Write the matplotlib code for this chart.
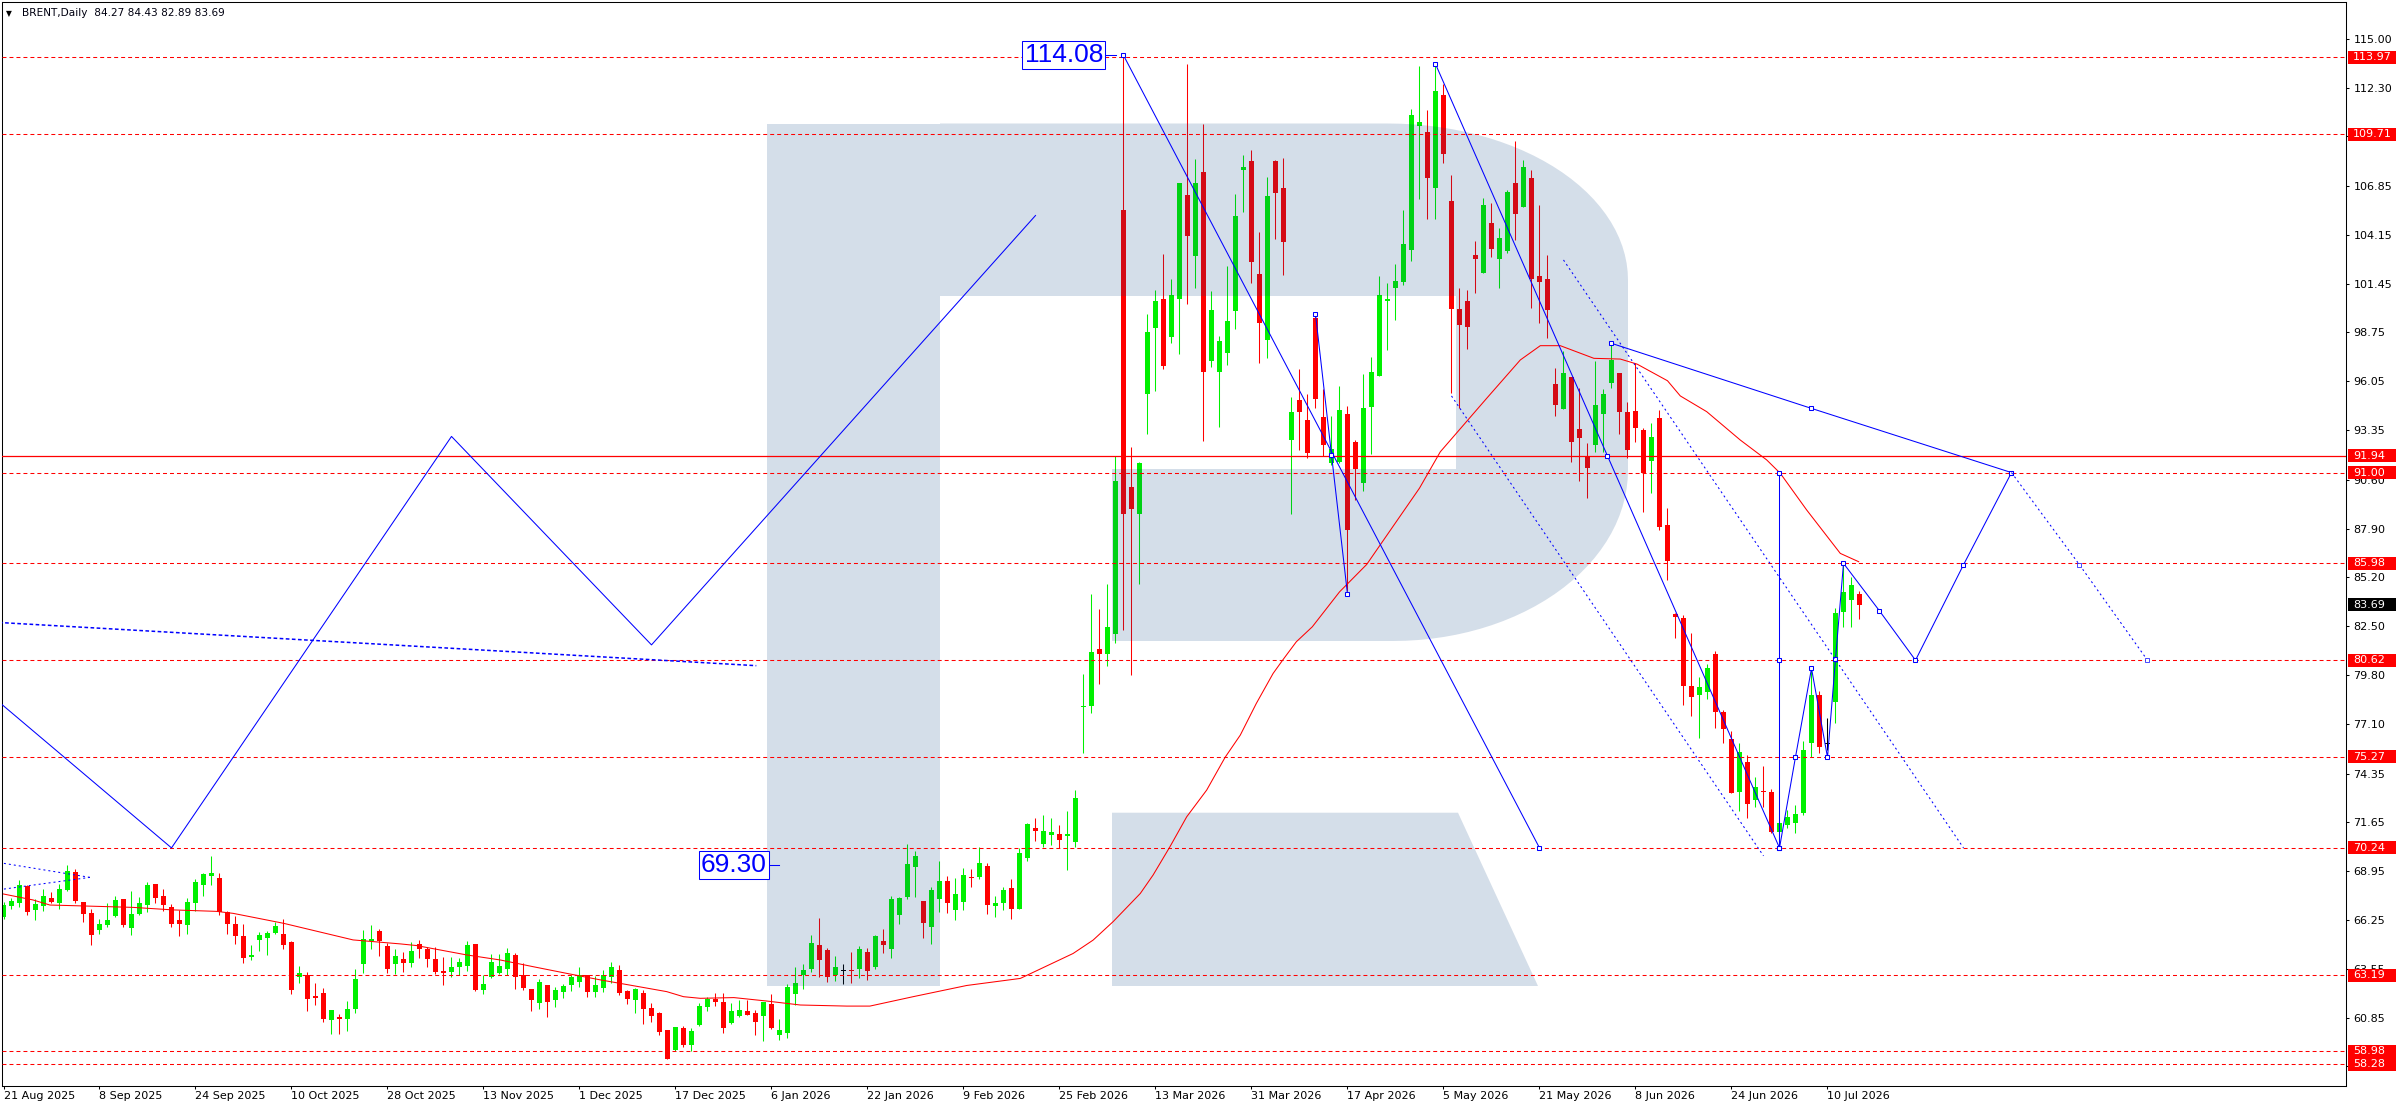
import matplotlib
matplotlib.use("Agg")
import matplotlib.pyplot as plt
from matplotlib.patches import Rectangle, Polygon
from matplotlib.transforms import blended_transform_factory, offset_copy
import numpy as np

# ---------------- data ----------------
date_labels = ["21 Aug 2025", "8 Sep 2025", "24 Sep 2025", "10 Oct 2025", "28 Oct 2025",
               "13 Nov 2025", "1 Dec 2025", "17 Dec 2025", "6 Jan 2026", "22 Jan 2026",
               "9 Feb 2026", "25 Feb 2026", "13 Mar 2026", "31 Mar 2026", "17 Apr 2026",
               "5 May 2026", "21 May 2026", "8 Jun 2026", "24 Jun 2026", "10 Jul 2026"]

opens = [66.44, 67.05, 67.21, 68.12, 66.81, 67.05, 67.45, 67.21, 67.91, 68.89,
         67.25, 66.64, 65.72, 65.98, 66.48, 67.42, 65.83, 66.60, 67.08, 68.25,
         67.58, 66.95, 66.25, 66.00, 67.21, 68.19, 68.71, 68.58, 66.68, 66.03,
         65.37, 64.23, 65.17, 65.28, 65.55, 65.48, 65.04, 63.12, 63.19, 62.05,
         62.22, 60.74, 60.89, 60.78, 61.33, 63.84, 65.07, 65.64, 64.82, 63.84,
         64.10, 63.89, 64.93, 64.65, 64.10, 63.43, 63.40, 63.67, 63.73, 64.93,
         62.36, 63.12, 63.32, 63.56, 64.32, 63.21, 62.44, 61.68, 62.66, 61.85,
         62.27, 62.68, 62.84, 63.21, 62.29, 62.51, 63.08, 63.49, 62.33, 61.83,
         62.22, 61.39, 61.09, 60.17, 59.08, 60.26, 59.36, 60.46, 61.46, 61.89,
         61.74, 60.58, 60.95, 61.20, 61.11, 60.96, 61.61, 59.89, 60.02, 62.18,
         63.19, 63.56, 64.85, 64.59, 63.21, 63.41, 63.48, 63.56, 64.48, 63.63,
         65.09, 64.66, 66.54, 67.52, 69.20, 67.30, 65.88, 67.43, 68.41, 66.82,
         67.26, 68.63, 68.65, 69.25, 67.04, 67.21, 68.02, 66.88, 69.70, 71.34,
         70.47, 70.97, 71.01, 70.91, 70.58, 78.01, 78.10, 81.22, 80.98, 82.09,
         105.51, 90.20, 88.70, 95.35, 99.02, 100.62, 98.51, 100.58, 106.36, 103.00,
         107.60, 97.16, 96.55, 97.62, 99.96, 107.75, 108.21, 101.99, 98.36, 108.21,
         106.74, 92.81, 94.99, 93.89, 99.56, 94.10, 91.51, 91.61, 94.25, 92.67,
         90.45, 94.63, 96.34, 100.49, 101.19, 101.56, 103.31, 110.19, 109.86, 106.76,
         111.88, 106.02, 100.07, 100.49, 103.03, 102.06, 104.79, 102.81, 103.26, 107.00,
         105.71, 107.29, 101.87, 101.71, 95.90, 94.50, 96.27, 93.39, 91.94, 92.53,
         94.22, 95.97, 96.49, 94.33, 94.41, 93.35, 91.66, 94.00, 88.10, 83.16,
         82.97, 79.20, 78.70, 78.88, 80.96, 77.74, 76.25, 73.35, 74.97, 72.89,
         73.39, 73.31, 71.14, 71.51, 71.60, 72.19, 76.02, 78.70, 75.97, 78.33,
         83.31, 83.95, 84.27]

highs = [67.27, 67.45, 68.47, 68.17, 67.43, 67.95, 67.80, 68.24, 69.30, 69.08,
         67.25, 66.84, 66.33, 67.19, 67.58, 67.42, 67.86, 67.51, 68.37, 68.25,
         67.97, 67.14, 66.81, 67.47, 68.50, 68.84, 69.79, 68.87, 66.77, 66.48,
         66.03, 64.87, 65.61, 65.65, 66.14, 66.31, 65.09, 63.71, 63.38, 62.77,
         62.48, 61.26, 61.06, 61.77, 63.54, 65.70, 65.96, 65.76, 64.96, 64.65,
         64.50, 65.02, 65.15, 64.78, 64.78, 64.21, 64.21, 64.15, 65.09, 64.93,
         63.21, 64.37, 64.37, 64.70, 64.41, 63.89, 62.44, 62.97, 62.66, 62.57,
         62.73, 63.19, 63.67, 63.21, 63.16, 63.49, 63.93, 63.76, 62.38, 62.47,
         62.38, 61.68, 61.18, 60.17, 60.35, 60.37, 60.28, 61.68, 62.01, 62.20,
         62.20, 61.66, 61.83, 61.83, 61.28, 61.74, 62.18, 60.76, 62.70, 63.63,
         63.82, 65.41, 66.35, 64.72, 64.26, 63.81, 64.46, 64.79, 64.68, 65.42,
         65.75, 67.58, 67.52, 70.45, 70.07, 67.30, 68.07, 69.51, 68.68, 68.57,
         69.12, 69.07, 70.29, 69.40, 67.58, 68.07, 68.52, 70.21, 71.61, 71.89,
         72.06, 71.89, 71.50, 72.28, 73.46, 79.85, 84.28, 83.45, 84.83, 91.93,
         114.08, 92.39, 91.60, 99.77, 101.10, 103.07, 101.71, 107.01, 113.59, 108.32,
         110.26, 101.04, 98.57, 102.43, 106.40, 108.59, 108.82, 104.31, 107.33, 108.27,
         108.38, 95.20, 96.74, 95.37, 99.77, 95.62, 94.14, 95.77, 94.67, 92.81,
         96.46, 97.41, 101.86, 101.48, 102.54, 105.52, 111.09, 113.49, 111.05, 113.60,
         112.49, 107.46, 101.19, 101.10, 103.79, 106.17, 105.89, 104.51, 106.63, 109.34,
         108.29, 107.74, 105.80, 103.03, 96.77, 97.73, 96.27, 95.66, 92.62, 97.17,
         95.60, 98.06, 96.49, 94.89, 97.04, 93.45, 93.72, 94.46, 89.02, 83.21,
         83.12, 82.11, 79.71, 80.41, 81.15, 77.87, 76.72, 76.06, 75.38, 74.18,
         74.79, 73.50, 71.69, 72.34, 72.61, 76.15, 80.08, 78.92, 77.41, 83.50,
         85.98, 85.24, 84.43]

lows = [66.29, 66.88, 66.95, 66.53, 66.27, 66.75, 67.18, 66.88, 67.86, 67.18,
        66.14, 64.87, 65.46, 65.89, 66.40, 65.85, 65.43, 66.55, 66.70, 67.19,
        66.75, 65.87, 65.37, 65.48, 66.77, 67.60, 68.19, 66.55, 65.48, 64.95,
        63.88, 64.06, 64.56, 64.32, 65.50, 64.65, 62.18, 62.77, 61.22, 61.55,
        60.63, 59.97, 59.97, 60.13, 61.09, 63.32, 64.67, 64.28, 63.34, 63.27,
        63.40, 63.67, 64.17, 63.67, 63.29, 62.68, 63.08, 63.19, 63.45, 62.31,
        62.14, 63.06, 63.25, 63.23, 62.46, 62.40, 61.24, 61.31, 60.91, 61.46,
        61.96, 62.34, 62.57, 62.01, 62.01, 62.27, 62.75, 62.13, 61.63, 61.13,
        60.52, 60.61, 59.91, 58.55, 58.99, 59.25, 59.03, 60.39, 61.20, 61.50,
        60.02, 60.52, 60.91, 60.98, 59.87, 59.58, 60.24, 59.62, 59.73, 61.54,
        62.42, 63.40, 63.08, 62.84, 62.89, 62.71, 62.78, 63.04, 62.95, 63.56,
        64.44, 64.17, 66.05, 67.43, 67.54, 65.27, 64.94, 66.71, 66.65, 66.27,
        66.82, 68.09, 68.53, 66.60, 66.43, 66.82, 66.32, 66.88, 69.53, 70.62,
        70.30, 70.40, 70.21, 69.03, 70.30, 75.50, 77.72, 79.32, 80.32, 81.60,
        82.31, 79.82, 84.85, 93.13, 95.51, 96.72, 98.17, 97.58, 100.32, 101.23,
        92.75, 96.82, 93.51, 96.93, 98.93, 105.43, 101.50, 97.05, 97.35, 103.93,
        101.95, 88.72, 92.24, 91.82, 94.56, 91.93, 91.40, 91.55, 84.44, 89.50,
        89.97, 92.03, 96.34, 97.77, 99.46, 101.38, 102.70, 106.11, 105.04, 105.04,
        108.14, 95.38, 94.55, 97.85, 100.91, 102.06, 102.94, 101.23, 103.13, 103.86,
        105.71, 100.12, 99.26, 98.46, 94.15, 94.50, 91.60, 90.53, 89.61, 92.16,
        92.16, 95.70, 93.12, 91.79, 92.71, 88.84, 89.89, 87.82, 85.06, 81.87,
        78.14, 77.54, 76.30, 78.46, 76.85, 76.02, 73.26, 72.30, 71.88, 72.48,
        72.52, 71.08, 70.22, 71.32, 71.05, 72.06, 75.29, 75.51, 75.66, 77.13,
        82.48, 82.48, 82.89]

closes = [67.07, 67.30, 68.17, 66.72, 67.12, 67.58, 67.25, 67.97, 68.95, 67.29,
          66.60, 65.42, 66.03, 66.25, 67.36, 65.96, 66.59, 67.19, 68.19, 67.49,
          67.08, 66.05, 66.05, 67.25, 68.37, 68.80, 68.85, 66.68, 66.05, 65.39,
          64.17, 64.30, 65.42, 65.54, 65.92, 64.89, 62.40, 63.30, 61.90, 61.96,
          60.78, 61.26, 60.80, 61.33, 62.99, 65.20, 65.20, 65.07, 63.56, 64.26,
          63.89, 64.54, 64.67, 64.12, 63.36, 63.34, 63.66, 63.93, 64.87, 62.36,
          62.71, 63.93, 63.71, 64.43, 63.12, 62.51, 61.83, 62.82, 61.72, 62.38,
          62.60, 63.10, 63.21, 62.29, 62.66, 63.21, 63.65, 62.22, 61.89, 62.42,
          61.35, 60.96, 60.08, 58.58, 60.34, 59.36, 60.10, 61.50, 61.87, 61.72,
          60.30, 61.20, 61.28, 61.02, 60.63, 61.70, 60.28, 60.17, 62.55, 62.75,
          63.47, 64.96, 64.04, 63.11, 63.65, 63.41, 63.45, 64.64, 63.45, 65.36,
          64.87, 67.41, 67.48, 69.35, 69.79, 66.10, 67.91, 68.41, 67.21, 67.70,
          68.74, 68.59, 69.40, 67.10, 67.19, 67.91, 66.88, 69.95, 71.56, 71.19,
          71.17, 71.12, 70.69, 71.01, 73.00, 78.08, 81.07, 80.98, 82.45, 90.56,
          88.70, 88.98, 91.51, 98.76, 100.51, 96.91, 100.83, 107.01, 104.10, 107.01,
          96.55, 100.01, 98.30, 99.39, 105.17, 107.92, 102.66, 99.27, 106.29, 106.48,
          103.78, 94.35, 94.35, 92.08, 95.07, 92.50, 92.29, 94.48, 87.82, 91.19,
          94.56, 96.57, 100.83, 100.62, 101.61, 103.64, 110.78, 110.39, 107.31, 112.09,
          108.64, 100.03, 99.16, 99.07, 102.81, 105.80, 103.37, 103.96, 106.52, 105.32,
          107.92, 101.71, 101.56, 99.99, 94.76, 96.49, 92.71, 92.93, 91.24, 94.72,
          95.33, 97.23, 94.37, 92.25, 93.45, 90.99, 92.95, 88.00, 86.11, 83.03,
          79.20, 78.61, 79.14, 80.17, 77.78, 76.80, 73.26, 75.53, 72.65, 73.63,
          73.33, 71.14, 71.60, 71.93, 72.12, 75.66, 78.70, 75.84, 75.97, 83.21,
          84.38, 84.78, 83.69]

# moving average
ma_x = [0, 3.7, 5.8, 8.3, 16.2, 21.2, 26.6, 28.7, 35.0, 43.7, 49.6, 51.6, 57.9, 62.1,
        66.2, 70.4, 74.6, 78.7, 82.9, 85.0, 87.1, 91.3, 95.4, 99.6, 105.4, 108.3, 113.7,
        120.4, 127.1, 133.7, 136.2, 138.7, 142.1, 143.7, 145.8, 147.9, 150.4, 152.7,
        154.6, 156.6, 158.7, 159.9, 161.6, 163.6, 167.0, 170.4, 173.7, 177.0, 179.6,
        185.4, 189.6, 192.1, 194.6, 198.8, 202.1, 204.2, 208.0, 209.6, 212.9, 217.1,
        220.4, 222.1, 225.4, 229.6, 231.9]
ma_y = [67.69, 67.36, 67.08, 67.05, 66.95, 66.81, 66.73, 66.62, 66.07, 65.15, 64.93,
        64.84, 64.32, 64.04, 63.67, 63.30, 62.94, 62.62, 62.29, 62.01, 61.92, 61.96,
        61.77, 61.55, 61.49, 61.49, 62.01, 62.63, 63.02, 64.40, 65.14, 66.16, 67.72,
        68.74, 70.30, 71.96, 73.44, 75.25, 76.48, 78.23, 79.89, 80.63, 81.64, 82.47,
        84.40, 85.92, 88.03, 90.14, 92.15, 95.11, 97.23, 98.02, 98.02, 97.32, 97.28,
        97.00, 96.08, 95.24, 94.37, 92.80, 91.70, 90.96, 88.93, 86.53, 86.07]

levels_dashed = [113.97, 109.71, 91.00, 85.98, 80.62, 75.27, 70.24, 63.19, 58.98, 58.28]
levels_solid = [91.94]
last_price = 83.69
ytick_values = [115.00, 112.30, 109.60, 106.85, 104.15, 101.45, 98.75, 96.05, 93.35,
                90.60, 87.90, 85.20, 82.50, 79.80, 77.10, 74.35, 71.65, 68.95, 66.25,
                63.55, 60.85, 58.15]

# drawn analysis objects (bar index, price)
left_zigzag_x = [-3, 21, 56, 81, 129]
left_zigzag_y = [79.22, 70.24, 93.00, 81.47, 105.22]
left_dotted_x = [-1, 94.1]
left_dotted_y = [82.72, 80.32]
small_upper_x = [-1, 10.8]
small_upper_y = [69.46, 68.61]
small_lower_x = [-1, 10.8]
small_lower_y = [67.90, 68.61]
lineA_x = [140, 192]
lineA_y = [114.08, 70.24]
lineB_x = [164, 166, 168]
lineB_y = [99.77, 91.99, 84.27]
lineC_x = [179, 222]
lineC_y = [113.60, 70.24]
lineC_mark_x = [200.5]
lineC_mark_y = [91.92]
lineD_x = [201, 226, 251]
lineD_y = [98.15, 94.55, 91.00]
wave_x = [222, 224, 226, 228, 229, 230, 234.5, 239, 245, 251]
wave_y = [70.24, 75.27, 80.17, 75.25, 80.67, 85.98, 83.35, 80.62, 85.90, 91.00]
vert_x = [222, 222, 222]
vert_y = [70.24, 80.62, 91.00]
fcst_x = [251, 259.5, 268]
fcst_y = [91.00, 85.90, 80.62]
chanF_x = [195, 245]
chanF_y = [102.76, 70.24]
chanG_x = [181, 220]
chanG_y = [95.24, 69.80]
label_hi = (140, 114.08)
label_lo = (97, 69.30)

# ---------------- figure ----------------
W, H = 2396, 1110
DPI = 100
fig = plt.figure(figsize=(W / DPI, H / DPI), dpi=DPI, facecolor="white")
L_PX, R_PX, T_PX, B_PX = 2.3, 2346.0, 2.0, 1086.0
ax = fig.add_axes([L_PX / W, (H - B_PX) / H, (R_PX - L_PX) / W, (B_PX - T_PX) / H])
PX_PER_BAR = 8.0
x0 = (L_PX - 3.5) / PX_PER_BAR
ax.set_xlim(x0, x0 + (R_PX - L_PX) / PX_PER_BAR)
ax.set_ylim(57.07, 117.03)
ax.set_facecolor("white")

LW = 0.75
GREEN = "#00f000"
RED = "#ff0000"
BLUE = "#0000ff"

# candles
o = np.array(opens); h = np.array(highs); l = np.array(lows); c = np.array(closes)
xs = np.arange(len(o))
cols = [GREEN if cc > oo else (RED if cc < oo else "black") for oo, cc in zip(o, c)]
ax.vlines(xs, l, h, colors=cols, linewidth=LW, zorder=2)
bottoms = np.minimum(o, c)
heights = np.maximum(np.abs(c - o), 0.06)
ax.bar(xs, heights, bottom=bottoms, width=0.62, color=cols, linewidth=0, zorder=2.1)

# watermark (decoration, placed in axes-fraction coords from pixel geometry)
def pxa(x, y):
    return ((x - L_PX) / (R_PX - L_PX), (B_PX - y) / (B_PX - T_PX))

wm_col = (2 / 255, 61 / 255, 126 / 255)
wm_alpha = 0.17
stem = [(767, 123.5), (940, 123.5), (940, 986), (767, 986)]
bowl = [(940, 123.5), (1388, 123.5)]
for t in np.linspace(np.pi / 2, 0, 30):
    bowl.append((1388 + 240 * np.cos(t), 280 - 156.5 * np.sin(t)))
bowl.append((1628, 470))
for t in np.linspace(0, np.pi / 2, 30):
    bowl.append((1393 + 235 * np.cos(t), 470 + 171 * np.sin(t)))
bowl += [(1112, 641), (1112, 469), (1456, 469), (1456, 296), (940, 296)]
leg = [(1112, 812.7), (1458, 812.7), (1538, 986), (1112, 986)]
for poly in (stem, bowl, leg):
    ax.add_patch(Polygon([pxa(*p) for p in poly], closed=True, transform=ax.transAxes,
                         facecolor=wm_col, alpha=wm_alpha, edgecolor="none", zorder=3))

# level lines
for lv in levels_dashed:
    ax.axhline(lv, color=RED, lw=LW, ls=(0, (3.8, 2.9)), zorder=4)
for lv in levels_solid:
    ax.axhline(lv, color=RED, lw=0.9, zorder=4)

# moving average
ax.plot(ma_x, ma_y, color=RED, lw=LW, zorder=4.2)

# analysis lines
sq = dict(marker="s", markersize=3.3, markerfacecolor="white", markeredgecolor=BLUE,
          markeredgewidth=0.75)
ax.plot(left_zigzag_x, left_zigzag_y, color=BLUE, lw=LW, zorder=5)
ax.plot(left_dotted_x, left_dotted_y, color=BLUE, lw=1.1, ls=(0, (2.4, 1.6)), zorder=5)
ax.plot(small_upper_x, small_upper_y, color=BLUE, lw=LW, ls=(0, (1.9, 2.9)), zorder=5)
ax.plot(small_lower_x, small_lower_y, color=BLUE, lw=LW, ls=(0, (1.9, 2.9)), zorder=5)
ax.plot(lineA_x, lineA_y, color=BLUE, lw=LW, zorder=5, **sq)
ax.plot(lineB_x, lineB_y, color=BLUE, lw=LW, zorder=5, **sq)
ax.plot(lineC_x, lineC_y, color=BLUE, lw=LW, zorder=5, **sq)
ax.plot(lineC_mark_x, lineC_mark_y, ls="none", zorder=5.1, **sq)
ax.plot(lineD_x, lineD_y, color=BLUE, lw=LW, zorder=5, **sq)
ax.plot(vert_x, vert_y, color=BLUE, lw=LW, zorder=5, **sq)
ax.plot(wave_x, wave_y, color=BLUE, lw=LW, zorder=5, **sq)
ax.plot(fcst_x, fcst_y, color=BLUE, lw=LW, ls=(0, (1.9, 2.9)), zorder=5)
ax.plot(fcst_x[1:], fcst_y[1:], ls="none", zorder=5, marker="s", markersize=3.0,
        markerfacecolor="white", markeredgecolor=BLUE, markeredgewidth=0.5)
ax.plot(chanF_x, chanF_y, color=BLUE, lw=LW, ls=(0, (1.9, 2.9)), zorder=5)
ax.plot(chanG_x, chanG_y, color=BLUE, lw=LW, ls=(0, (1.9, 2.9)), zorder=5)

# price labels of drawn objects
lab_font = dict(fontsize=19, family="Liberation Sans", color=BLUE, ha="right", va="center",
                zorder=6)
box = dict(boxstyle="square,pad=0.08", facecolor="white", edgecolor=BLUE, linewidth=LW)
for (bx, by), gap, stub_end in ((label_hi, 18.5, 7.5), (label_lo, 10.5, 0.0)):
    tr = offset_copy(ax.transData, fig=fig, x=-(gap + 2.1), y=0, units="dots")
    ax.text(bx, by, f"{by:.2f}", transform=tr, bbox=box, **lab_font)
    ax.plot([bx - gap / PX_PER_BAR, bx - stub_end / PX_PER_BAR], [by, by], color=BLUE,
            lw=LW, zorder=5)

# axes styling
for s in ax.spines.values():
    s.set_linewidth(LW)
    s.set_color("black")
ax.yaxis.tick_right()
ax.set_yticks(ytick_values)
ax.set_yticklabels([f"{v:.2f}" for v in ytick_values])
ax.tick_params(axis="y", which="both", direction="out", length=2.2, width=LW, pad=3.2,
               labelsize=8, colors="black", left=False, right=True)
ax.set_xticks(list(range(0, 12 * len(date_labels), 12)))
ax.set_xticklabels(date_labels)
ax.tick_params(axis="x", direction="out", length=2.2, width=LW, pad=1.5, labelsize=8,
               colors="black", top=False)
for t in ax.get_xticklabels():
    t.set_ha("left")

# right-hand price boxes
bt = blended_transform_factory(ax.transAxes, ax.transData)
bx0 = (2348 - L_PX) / (R_PX - L_PX)
bw = (2396 - 2348) / (R_PX - L_PX)
tx = (2353 - L_PX) / (R_PX - L_PX)
bh = 13.0 / 18.08
for lv, fc in [(v, RED) for v in levels_dashed + levels_solid] + [(last_price, "black")]:
    ax.add_patch(Rectangle((bx0, lv - bh / 2), bw, bh, transform=bt, facecolor=fc,
                           edgecolor="none", clip_on=False, zorder=7))
    ax.text(tx, lv, f"{lv:.2f}", transform=bt, color="white", fontsize=8, ha="left",
            va="center", clip_on=False, zorder=8)

# header
fig.text(6 / W, 1 - 16.5 / H, "\u25bc", fontsize=5.5, va="baseline", ha="left")
fig.text(21.5 / W, 1 - 16.5 / H, "BRENT,Daily  84.27 84.43 82.89 83.69", fontsize=7.6,
         va="baseline", ha="left", color="#000010")

fig.savefig("out.png", dpi=DPI, facecolor="white")
